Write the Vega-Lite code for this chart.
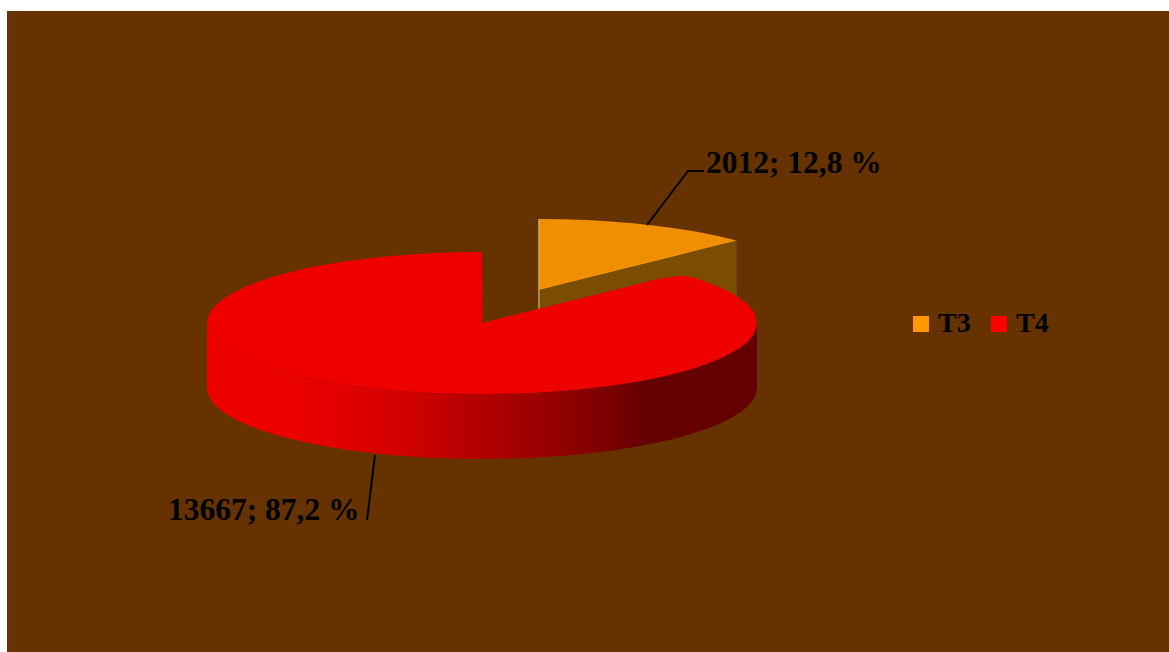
{"$schema":"https://vega.github.io/schema/vega-lite/v6.json","width":1162,"height":641,"autosize":{"type":"none"},"padding":{"left":7,"top":11,"right":0,"bottom":0},"background":"#ffffff","view":{"fill":"#663300","stroke":null},
"datasets":{
"slices":[{"slice":"T3","value":2012,"share":12.8,"label":"2012; 12,8 %","x":81.45,"y":211.3},{"slice":"T4","value":13667,"share":87.2,"label":"13667; 87,2 %","x":-114.2,"y":-277.5}],
"t3wall":[{"x":20.7,"y":46.5,"y2":-45},{"x":92.6,"y":116,"y2":24.5}],
"t3top":[{"x":20.7,"y":146.5,"y2":46.5},{"x":29.4,"y":146.1,"y2":54.9},{"x":38.1,"y":145,"y2":63.3},{"x":46.6,"y":143.1,"y2":71.5},{"x":54.9,"y":140.5,"y2":79.6},{"x":63,"y":137.1,"y2":87.4},{"x":70.7,"y":133.1,"y2":94.8},{"x":78.1,"y":128.4,"y2":102},{"x":85,"y":123.1,"y2":108.7},{"x":91.4,"y":117.2,"y2":114.8},{"x":92.6,"y":116,"y2":116}],
"t3edge":[{"x":20.7,"y":146.5,"seq":1},{"x":20.7,"y":18.3,"seq":2}],
"t4side":[{"x":-100,"y":0,"y2":-91.5},{"x":-99.6,"y":-8.7,"y2":-100.2},{"x":-98.5,"y":-17.4,"y2":-108.9},{"x":-96.6,"y":-25.9,"y2":-117.4},{"x":-94,"y":-34.2,"y2":-125.7},{"x":-90.6,"y":-42.3,"y2":-133.8},{"x":-86.6,"y":-50,"y2":-141.5},{"x":-81.9,"y":-57.4,"y2":-148.9},{"x":-76.6,"y":-64.3,"y2":-155.8},{"x":-70.7,"y":-70.7,"y2":-162.2},{"x":-64.3,"y":-76.6,"y2":-168.1},{"x":-57.4,"y":-81.9,"y2":-173.4},{"x":-50,"y":-86.6,"y2":-178.1},{"x":-42.3,"y":-90.6,"y2":-182.1},{"x":-34.2,"y":-94,"y2":-185.5},{"x":-25.9,"y":-96.6,"y2":-188.1},{"x":-17.4,"y":-98.5,"y2":-190},{"x":-8.7,"y":-99.6,"y2":-191.1},{"x":0,"y":-100,"y2":-191.5},{"x":8.7,"y":-99.6,"y2":-191.1},{"x":17.4,"y":-98.5,"y2":-190},{"x":25.9,"y":-96.6,"y2":-188.1},{"x":34.2,"y":-94,"y2":-185.5},{"x":42.3,"y":-90.6,"y2":-182.1},{"x":50,"y":-86.6,"y2":-178.1},{"x":57.4,"y":-81.9,"y2":-173.4},{"x":64.3,"y":-76.6,"y2":-168.1},{"x":70.7,"y":-70.7,"y2":-162.2},{"x":76.6,"y":-64.3,"y2":-155.8},{"x":81.9,"y":-57.4,"y2":-148.9},{"x":86.6,"y":-50,"y2":-141.5},{"x":90.6,"y":-42.3,"y2":-133.8},{"x":94,"y":-34.2,"y2":-125.7},{"x":96.6,"y":-25.9,"y2":-117.4},{"x":98.5,"y":-17.4,"y2":-108.9},{"x":99.6,"y":-8.7,"y2":-100.2},{"x":100,"y":0,"y2":-91.5}],
"t4top":[{"x":-100,"y":0,"y2":0},{"x":-99.6,"y":8.7,"y2":-8.7},{"x":-98.5,"y":17.4,"y2":-17.4},{"x":-96.6,"y":25.9,"y2":-25.9},{"x":-94,"y":34.2,"y2":-34.2},{"x":-90.6,"y":42.3,"y2":-42.3},{"x":-86.6,"y":50,"y2":-50},{"x":-81.9,"y":57.4,"y2":-57.4},{"x":-76.6,"y":64.3,"y2":-64.3},{"x":-70.7,"y":70.7,"y2":-70.7},{"x":-64.3,"y":76.6,"y2":-76.6},{"x":-57.4,"y":81.9,"y2":-81.9},{"x":-50,"y":86.6,"y2":-86.6},{"x":-42.3,"y":90.6,"y2":-90.6},{"x":-34.2,"y":94,"y2":-94},{"x":-25.9,"y":96.6,"y2":-96.6},{"x":-17.4,"y":98.5,"y2":-98.5},{"x":-8.7,"y":99.6,"y2":-99.6},{"x":0,"y":100,"y2":-100},{"x":0.2,"y":0,"y2":-100},{"x":8.7,"y":8.4,"y2":-99.6},{"x":17.4,"y":16.8,"y2":-98.5},{"x":25.9,"y":25,"y2":-96.6},{"x":34.2,"y":33.1,"y2":-94},{"x":42.3,"y":40.9,"y2":-90.6},{"x":50,"y":48.3,"y2":-86.6},{"x":57.4,"y":55.5,"y2":-81.9},{"x":64.3,"y":62.2,"y2":-76.6},{"x":70.7,"y":66,"y2":-70.7},{"x":72,"y":66.5,"y2":-69.4},{"x":76.6,"y":64.3,"y2":-64.3},{"x":81.9,"y":57.4,"y2":-57.4},{"x":86.6,"y":50,"y2":-50},{"x":90.6,"y":42.3,"y2":-42.3},{"x":94,"y":34.2,"y2":-34.2},{"x":96.6,"y":25.9,"y2":-25.9},{"x":98.5,"y":17.4,"y2":-17.4},{"x":99.6,"y":8.7,"y2":-8.7},{"x":100,"y":0,"y2":0}],
"leaders":[{"slice":"T3","x":60,"y":138,"seq":1},{"slice":"T3","x":74.9,"y":214.1,"seq":2},{"slice":"T3","x":80.7,"y":214.1,"seq":3},{"slice":"T4","x":-38.9,"y":-185.9,"seq":1},{"slice":"T4","x":-41.8,"y":-277.5,"seq":2}]
},
"encoding":{"x":{"field":"x","type":"quantitative","axis":null,"scale":{"domain":[-172.727,249.818],"nice":false,"zero":false}},"y":{"field":"y","type":"quantitative","axis":null,"scale":{"domain":[-463.38,439.437],"nice":false,"zero":false}}},
"layer":[
{"data":{"name":"t3wall"},"mark":{"type":"area","fill":"#7a4d00"},"encoding":{"y2":{"field":"y2"}}},
{"data":{"name":"t3top"},"mark":{"type":"area","fill":"#f09000"},"encoding":{"y2":{"field":"y2"}}},
{"data":{"name":"t3edge"},"mark":{"type":"line","stroke":"#c9b48a","strokeWidth":1.2},"encoding":{"order":{"field":"seq"}}},
{"data":{"name":"t4side"},"mark":{"type":"area","fill":{"gradient":"linear","x1":0,"y1":0,"x2":1,"y2":0,"stops":[{"offset":0,"color":"#ee0000"},{"offset":0.17,"color":"#ea0000"},{"offset":0.35,"color":"#d40000"},{"offset":0.5,"color":"#b00000"},{"offset":0.62,"color":"#980000"},{"offset":0.72,"color":"#7c0000"},{"offset":0.8,"color":"#640000"},{"offset":1,"color":"#640000"}]}},"encoding":{"y2":{"field":"y2"}}},
{"data":{"name":"t4top"},"mark":{"type":"area","fill":"#ee0000"},"encoding":{"y2":{"field":"y2"}}},
{"data":{"name":"leaders"},"mark":{"type":"line","stroke":"#000000","strokeWidth":2},"encoding":{"detail":{"field":"slice"},"order":{"field":"seq"}}},
{"data":{"name":"slices"},"mark":{"type":"square","opacity":0},"encoding":{"color":{"field":"slice","type":"nominal","scale":{"domain":["T3","T4"],"range":["#ff9900","#ff0000"]},"legend":{"title":null,"orient":"none","legendX":900,"legendY":299,"direction":"horizontal","columns":2,"padding":0,"symbolType":"square","symbolSize":256,"symbolOpacity":1,"symbolStrokeWidth":0,"labelFont":"Liberation Serif","labelFontWeight":"bold","labelFontSize":28,"labelColor":"#000000","labelOffset":3,"columnPadding":14,"labelLimit":100}}}},
{"data":{"name":"slices"},"mark":{"type":"text","font":"Liberation Serif","fontWeight":"bold","fontSize":31.5,"align":"left","baseline":"alphabetic","color":"#000000"},"encoding":{"text":{"field":"label"}}}
]}
